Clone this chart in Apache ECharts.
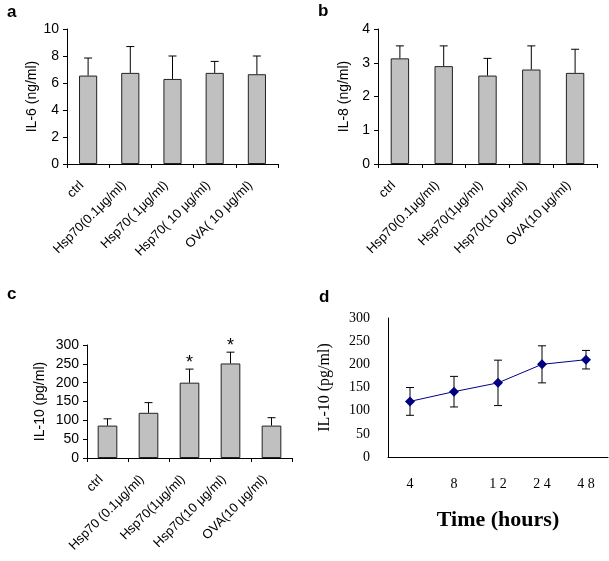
<!DOCTYPE html>
<html><head><meta charset="utf-8">
<script src="https://cdn.jsdelivr.net/npm/echarts@6/dist/echarts.min.js"></script>
<style>html,body{margin:0;padding:0;background:#fff}#c{width:609px;height:561px}</style>
</head><body><div id="c"></div>
<script>
const catsA = ['ctrl', 'Hsp70(0.1μg/ml)', 'Hsp70( 1μg/ml)', 'Hsp70( 10 μg/ml)', 'OVA( 10 μg/ml)'];
const catsB = ['ctrl', 'Hsp70(0.1μg/ml)', 'Hsp70(1μg/ml)', 'Hsp70(10 μg/ml)', 'OVA(10 μg/ml)'];
const catsC = ['ctrl', 'Hsp70 (0.1μg/ml)', 'Hsp70(1μg/ml)', 'Hsp70(10 μg/ml)', 'OVA(10 μg/ml)'];
const il6 = [6.55, 6.75, 6.3, 6.75, 6.65];
const il6Err = [1.3, 1.95, 1.7, 0.85, 1.35];
const il8 = [3.13, 2.9, 2.62, 2.8, 2.7];
const il8Err = [0.37, 0.6, 0.51, 0.7, 0.7];
const il10 = [86, 120, 200, 251, 86];
const il10Err = [18, 27, 36, 30, 21];
const il10Stars = ['', '', '*', '*', ''];
const timeCats = ['4', '8', '1 2', '2 4', '4 8'];
const il10Time = [120, 141, 160, 200, 210];
const il10TimeErr = [30, 33, 49, 40, 20];

const chart = echarts.init(document.getElementById('c'));
const sans = 'Arial, "Liberation Sans", sans-serif';
const serif = '"Times New Roman", "Liberation Serif", serif';

function upErr(params, api) {
  const v = api.value(1), e = api.value(2), star = api.value(3);
  const base = api.coord([api.value(0), v]);
  const top = api.coord([api.value(0), v + e]);
  const st = {stroke: '#000', lineWidth: 1};
  const ch = [
    {type: 'line', shape: {x1: base[0], y1: base[1], x2: top[0], y2: top[1]}, style: st},
    {type: 'line', shape: {x1: top[0] - 4, y1: top[1], x2: top[0] + 4, y2: top[1]}, style: st}
  ];
  if (star) ch.push({type: 'text', x: top[0], y: top[1] + 3, style: {text: star, fill: '#000', font: '18px ' + sans, align: 'center', verticalAlign: 'bottom'}});
  return {type: 'group', children: ch};
}
function bothErr(params, api) {
  const v = api.value(1), e = api.value(2);
  const lo = api.coord([api.value(0), v - e]);
  const hi = api.coord([api.value(0), v + e]);
  const st = {stroke: '#000', lineWidth: 1};
  return {type: 'group', children: [
    {type: 'line', shape: {x1: lo[0], y1: lo[1], x2: hi[0], y2: hi[1]}, style: st},
    {type: 'line', shape: {x1: hi[0] - 4, y1: hi[1], x2: hi[0] + 4, y2: hi[1]}, style: st},
    {type: 'line', shape: {x1: lo[0] - 4, y1: lo[1], x2: lo[0] + 4, y2: lo[1]}, style: st}
  ]};
}
function catAxis(idx, cats) {
  return {type: 'category', gridIndex: idx, data: cats,
    axisLine: {lineStyle: {color: '#000', width: 1}},
    axisTick: {show: true, length: 4, inside: false, lineStyle: {color: '#000'}},
    axisLabel: {rotate: 45, interval: 0, margin: 13, padding: [0, 9, 0, 0], color: '#000', fontFamily: sans, fontSize: 13}};
}
function valAxis(idx, max, interval, name) {
  return {type: 'value', gridIndex: idx, min: 0, max: max, interval: interval,
    name: name, nameLocation: 'middle', nameGap: 27, nameRotate: 90,
    nameTextStyle: {color: '#000', fontFamily: sans, fontSize: 14},
    splitLine: {show: false},
    axisLine: {show: true, lineStyle: {color: '#000'}},
    axisTick: {show: true, length: 4, lineStyle: {color: '#000'}},
    axisLabel: {color: '#000', fontFamily: sans, fontSize: 14, margin: 8}};
}
const barStyle = {color: '#c0c0c0', borderColor: '#222', borderWidth: 1};

chart.setOption({
  animation: false,
  grid: [
    {left: 67, top: 29, width: 211, height: 135},
    {left: 378, top: 29, width: 219, height: 135},
    {left: 87, top: 345, width: 205, height: 113},
    {left: 388, top: 318, width: 220, height: 139}
  ],
  xAxis: [
    catAxis(0, catsA), catAxis(1, catsB), catAxis(2, catsC),
    {type: 'category', gridIndex: 3, data: timeCats,
      axisLine: {lineStyle: {color: '#000'}}, axisTick: {show: false},
      axisLabel: {color: '#000', fontFamily: serif, fontSize: 14, margin: 20},
      name: 'Time (hours)', nameLocation: 'middle', nameGap: 52,
      nameTextStyle: {color: '#000', fontFamily: serif, fontSize: 22, fontWeight: 'bold'}}
  ],
  yAxis: [
    valAxis(0, 10, 2, 'IL-6 (ng/ml)'),
    valAxis(1, 4, 1, 'IL-8 (ng/ml)'),
    Object.assign(valAxis(2, 300, 50, 'IL-10 (pg/ml)'), {nameGap: 40}),
    {type: 'value', gridIndex: 3, min: 0, max: 300, interval: 50,
      name: 'IL-10 (pg/ml)', nameLocation: 'middle', nameGap: 55, nameRotate: 90,
      nameTextStyle: {color: '#000', fontFamily: serif, fontSize: 16},
      splitLine: {show: false}, axisTick: {show: false},
      axisLine: {show: true, lineStyle: {color: '#000'}},
      axisLabel: {color: '#000', fontFamily: serif, fontSize: 14, margin: 18}}
  ],
  series: [
    {type: 'bar', xAxisIndex: 0, yAxisIndex: 0, data: il6, barWidth: '43%', itemStyle: barStyle},
    {type: 'custom', xAxisIndex: 0, yAxisIndex: 0, renderItem: upErr, z: 5,
      data: il6.map((v, i) => [i, v, il6Err[i], ''])},
    {type: 'bar', xAxisIndex: 1, yAxisIndex: 1, data: il8, barWidth: '42%', itemStyle: barStyle},
    {type: 'custom', xAxisIndex: 1, yAxisIndex: 1, renderItem: upErr, z: 5,
      data: il8.map((v, i) => [i, v, il8Err[i], ''])},
    {type: 'bar', xAxisIndex: 2, yAxisIndex: 2, data: il10, barWidth: '48%', itemStyle: barStyle},
    {type: 'custom', xAxisIndex: 2, yAxisIndex: 2, renderItem: upErr, z: 5,
      data: il10.map((v, i) => [i, v, il10Err[i], il10Stars[i]])},
    {type: 'custom', xAxisIndex: 3, yAxisIndex: 3, renderItem: bothErr, z: 1,
      data: il10Time.map((v, i) => [i, v, il10TimeErr[i]])},
    {type: 'line', xAxisIndex: 3, yAxisIndex: 3, data: il10Time, z: 5,
      symbol: 'diamond', symbolSize: 10,
      lineStyle: {color: '#000080', width: 1}, itemStyle: {color: '#000080'}}
  ],
  graphic: [
    {type: 'text', left: 7, top: 4, style: {text: 'a', font: 'bold 17px ' + sans, fill: '#000'}},
    {type: 'text', left: 318, top: 3, style: {text: 'b', font: 'bold 17px ' + sans, fill: '#000'}},
    {type: 'text', left: 7, top: 286, style: {text: 'c', font: 'bold 17px ' + sans, fill: '#000'}},
    {type: 'text', left: 319, top: 289, style: {text: 'd', font: 'bold 17px ' + sans, fill: '#000'}}
  ]
});
</script></body></html>
